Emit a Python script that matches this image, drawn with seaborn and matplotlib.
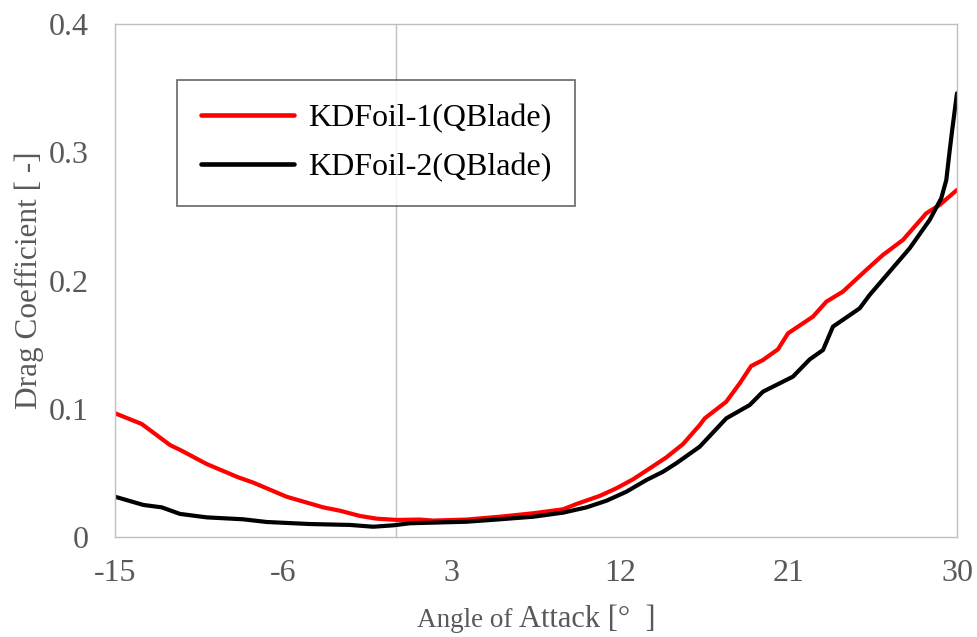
import numpy as np
import pandas as pd
import matplotlib
matplotlib.use("Agg")
import matplotlib.pyplot as plt
import seaborn as sns
from matplotlib.offsetbox import TextArea, HPacker, AnchoredOffsetbox

# ---- data ----
series_names = ["KDFoil-1(QBlade)", "KDFoil-2(QBlade)"]
series_colors = ["#ff0000", "#000000"]

aoa_foil1 = [-15, -13.57, -12.06, -11.44, -10.1, -8.41, -7.61, -5.83, -3.87, -2.98,
             -1.91, -1.02, 0.05, 1.29, 2.0, 3.78, 5.57, 7.35, 8.95, 9.66, 10.9, 11.8,
             12.69, 13.58, 14.47, 15.36, 16.25, 16.52, 17.67, 18.39, 19.0, 19.63,
             20.43, 20.97, 22.3, 23.02, 23.9, 25.15, 26.04, 27.11, 28.36, 29.07, 30]
cd_foil1 = [0.0965, 0.0881, 0.0717, 0.0673, 0.0569, 0.0465, 0.0424, 0.0314, 0.0231, 0.0205,
            0.0164, 0.0143, 0.0133, 0.0136, 0.0128, 0.0136, 0.0158, 0.0185, 0.0216, 0.0257,
            0.032, 0.038, 0.045, 0.0535, 0.0621, 0.0725, 0.0873, 0.0925, 0.1055, 0.1198,
            0.1333, 0.138, 0.1463, 0.1588, 0.1718, 0.1835, 0.1913, 0.2082, 0.2199, 0.2316,
            0.2524, 0.2589, 0.2706]

aoa_foil2 = [-15, -13.49, -12.5, -11.53, -10.1, -8.15, -6.9, -4.58, -2.45, -1.2, -0.13,
             0.76, 2.0, 3.78, 5.57, 7.35, 8.95, 10.2, 11.27, 12.33, 13.4, 14.29, 15.0,
             16.25, 17.67, 18.92, 19.63, 21.23, 22.13, 22.84, 23.37, 24.8, 25.33, 26.4,
             27.47, 28.54, 29.16, 29.43, 29.6, 29.75, 30]
cd_foil2 = [0.0314, 0.025, 0.0231, 0.018, 0.0153, 0.0138, 0.0117, 0.0101, 0.0094, 0.008,
            0.0091, 0.0107, 0.0112, 0.0119, 0.0138, 0.0158, 0.019, 0.0231, 0.0283, 0.0353,
            0.0444, 0.0509, 0.0575, 0.0704, 0.0925, 0.1029, 0.1133, 0.125, 0.1385, 0.1458,
            0.164, 0.1783, 0.1887, 0.2069, 0.2251, 0.2472, 0.2641, 0.2784, 0.300, 0.318,
            0.346]

x_ticks = [-15, -6, 3, 12, 21, 30]
x_tick_labels = ["-15", "-6", "3", "12", "21", "30"]
y_ticks = [0, 0.1, 0.2, 0.3, 0.4]
y_tick_labels = ["0", "0.1", "0.2", "0.3", "0.4"]

df = pd.concat([
    pd.DataFrame({"aoa": aoa_foil1, "cd": cd_foil1, "series": series_names[0]}),
    pd.DataFrame({"aoa": aoa_foil2, "cd": cd_foil2, "series": series_names[1]}),
], ignore_index=True)

# ---- style ----
sns.set_theme(style="white")
plt.rcParams["font.family"] = ["Liberation Serif", "DejaVu Serif"]

GRAY_TXT = "#595959"
GRAY_LINE = "#bfbfbf"

fig = plt.figure(figsize=(9.78, 6.37), dpi=100)
ax = fig.add_axes([0.1176, 0.157, 0.8609, 0.8053])

ax.axvline(0, color=GRAY_LINE, lw=1.0, zorder=0)

sns.lineplot(data=df, x="aoa", y="cd", hue="series", hue_order=series_names,
             palette=series_colors, linewidth=3.0, sort=False, estimator=None,
             ax=ax, legend=True)
for ln in ax.get_lines():
    ln.set_solid_joinstyle("round")
    ln.set_solid_capstyle("round")

ax.set_xlim(-15, 30)
ax.set_ylim(0, 0.4)
ax.set_xticks(x_ticks)
ax.set_xticklabels(x_tick_labels)
ax.set_yticks(y_ticks)
ax.set_yticklabels(y_tick_labels)
ax.tick_params(axis="both", length=0, labelsize=23, labelcolor=GRAY_TXT)
ax.tick_params(axis="y", pad=19)
ax.tick_params(axis="x", pad=16)

for s in ax.spines.values():
    s.set_visible(True)
    s.set_color(GRAY_LINE)
    s.set_linewidth(1.0)

ax.set_ylabel("Drag Coefficient [ -]", fontsize=22.5, color=GRAY_TXT, labelpad=3)
ax.set_xlabel("")

# x label with mixed sizes
ta1 = TextArea("Angle of ", textprops=dict(fontsize=19.5, color=GRAY_TXT,
                                           family=["Liberation Serif"]))
ta2 = TextArea("Attack [°  ]", textprops=dict(fontsize=22, color=GRAY_TXT,
                                              family=["Liberation Serif"]))
pack = HPacker(children=[ta1, ta2], align="baseline", pad=0, sep=0)
anch = AnchoredOffsetbox(loc="upper center", child=pack, pad=0, frameon=False,
                         bbox_to_anchor=(0.5, -0.133), bbox_transform=ax.transAxes,
                         borderpad=0)
ax.add_artist(anch)

leg = ax.legend(loc="upper left", bbox_to_anchor=(0.0736, 0.891), borderaxespad=0,
                fontsize=23, frameon=True, fancybox=False, edgecolor="#404040",
                handlelength=2.9, handletextpad=0.45, labelspacing=0.6,
                borderpad=0.75, title=None)
leg.get_frame().set_linewidth(1.2)
for t in leg.get_texts():
    t.set_color("black")
for h in leg.get_lines():
    h.set_linewidth(3.3)

fig.savefig("out.png", dpi=100)
